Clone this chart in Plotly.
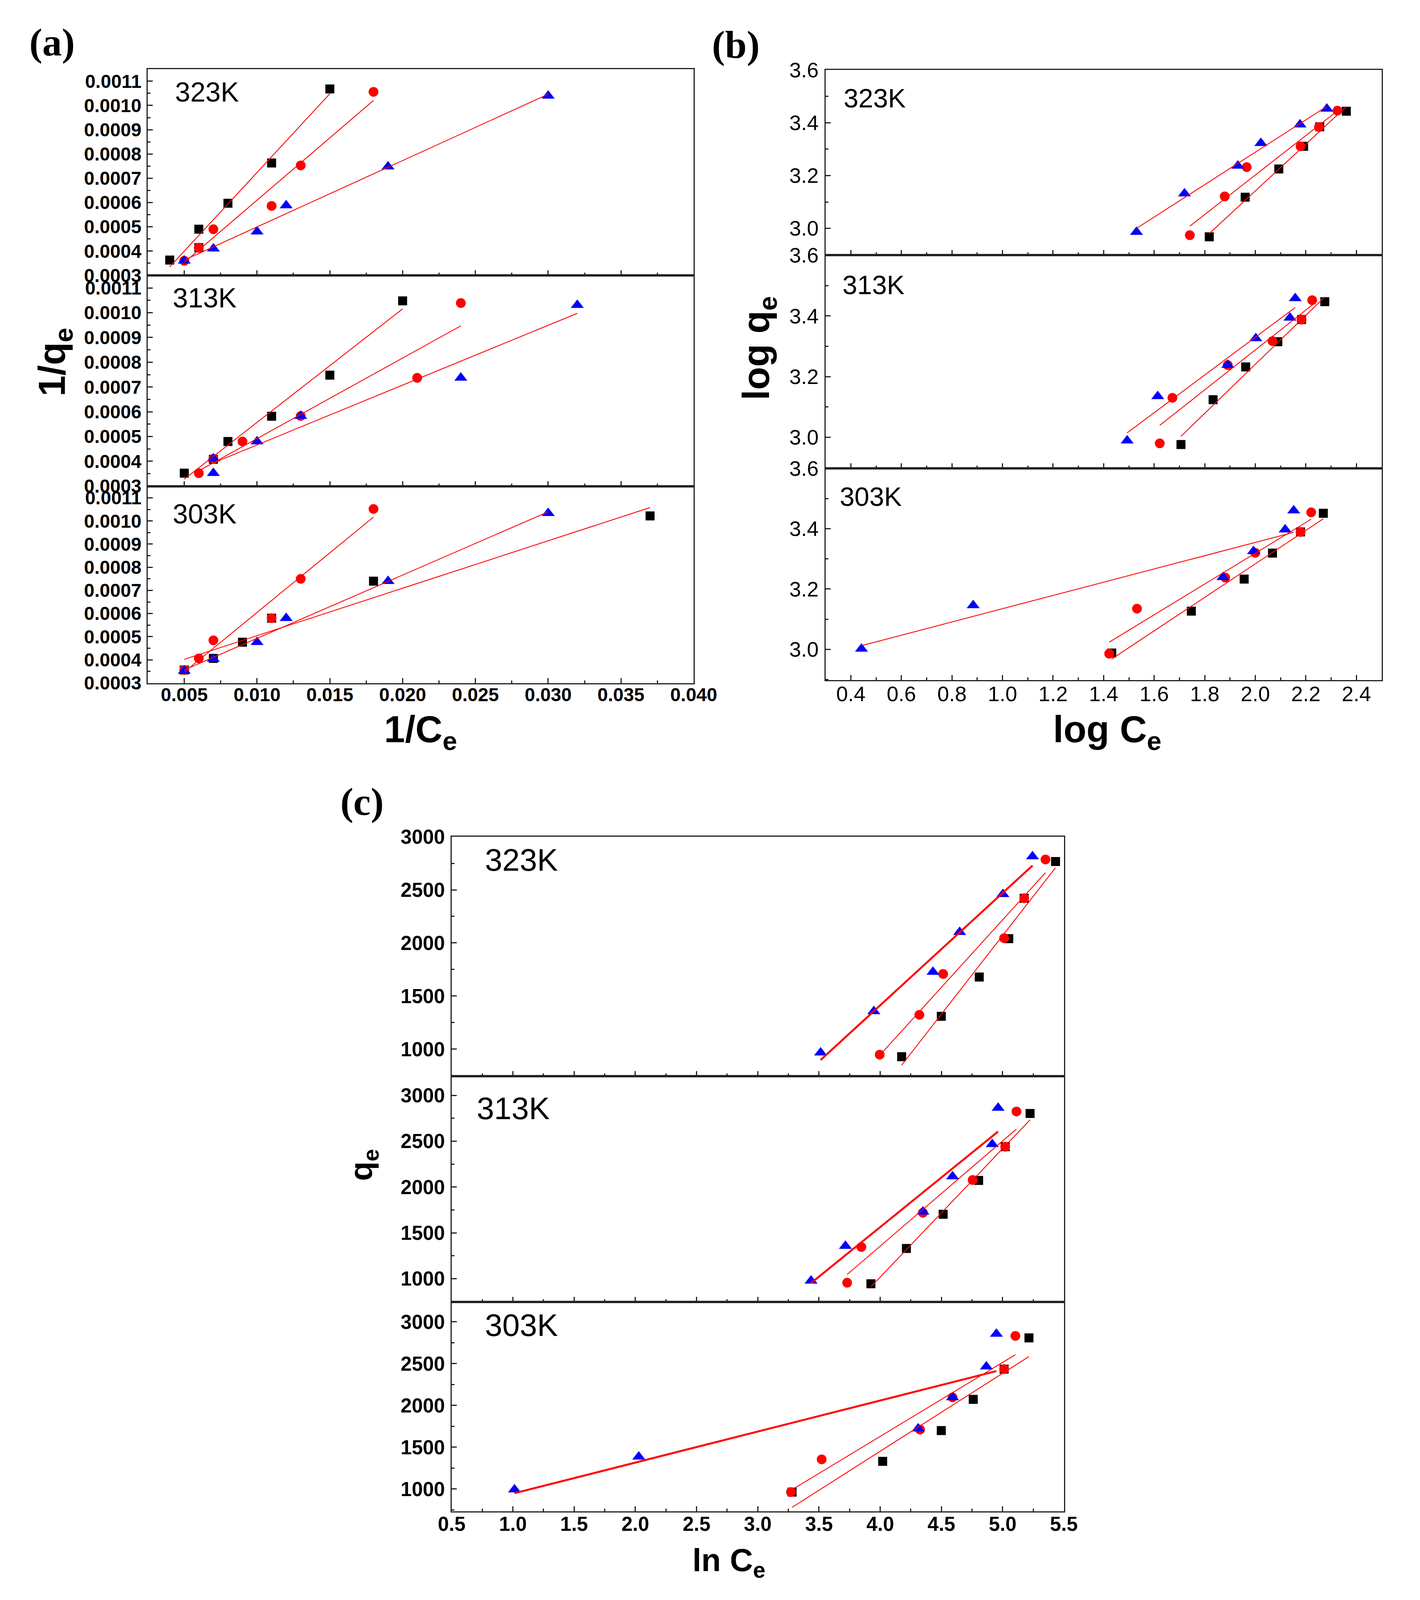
import numpy as np
import plotly.graph_objects as go

# ---------------- (a) 1/qe vs 1/Ce ----------------
a323_sq_x = [0.004, 0.006, 0.006, 0.008, 0.011, 0.015]
a323_sq_y = [0.000363, 0.00049, 0.000414, 0.000597, 0.000763, 0.001068]
a323_ci_x = [0.005, 0.006, 0.007, 0.011, 0.013, 0.018]
a323_ci_y = [0.00036, 0.000414, 0.00049, 0.000586, 0.000753, 0.001056]
a323_tr_x = [0.005, 0.007, 0.010, 0.012, 0.019, 0.030]
a323_tr_y = [0.00036, 0.00041, 0.00048, 0.000588, 0.000748, 0.00104]

a313_sq_x = [0.005, 0.007, 0.008, 0.011, 0.015, 0.020]
a313_sq_y = [0.000352, 0.000408, 0.00048, 0.000582, 0.000748, 0.001048]
a313_ci_x = [0.006, 0.007, 0.009, 0.013, 0.021, 0.024]
a313_ci_y = [0.000352, 0.00041, 0.00048, 0.000583, 0.000737, 0.001039]
a313_tr_x = [0.007, 0.007, 0.010, 0.013, 0.024, 0.032]
a313_tr_y = [0.000352, 0.000411, 0.00048, 0.000583, 0.000737, 0.001031]

a303_sq_x = [0.005, 0.007, 0.009, 0.011, 0.018, 0.037]
a303_sq_y = [0.000356, 0.000406, 0.000476, 0.00058, 0.00074, 0.001022]
a303_ci_x = [0.005, 0.006, 0.007, 0.011, 0.013, 0.018]
a303_ci_y = [0.000356, 0.000406, 0.000484, 0.00058, 0.00075, 0.001052]
a303_tr_x = [0.005, 0.007, 0.010, 0.012, 0.019, 0.030]
a303_tr_y = [0.000352, 0.000404, 0.000476, 0.00058, 0.00074, 0.001034]

# ---------------- (b) log qe vs log Ce ----------------
b323_sq_x = [1.818, 1.960, 2.093, 2.191, 2.255, 2.360]
b323_sq_y = [2.968, 3.118, 3.225, 3.311, 3.385, 3.444]
b323_ci_x = [1.741, 1.879, 1.966, 2.179, 2.252, 2.325]
b323_ci_y = [2.974, 3.121, 3.232, 3.311, 3.384, 3.446]
b323_tr_x = [1.530, 1.720, 1.931, 2.022, 2.177, 2.283]
b323_tr_y = [2.986, 3.132, 3.237, 3.323, 3.393, 3.453]

b313_sq_x = [1.706, 1.833, 1.962, 2.089, 2.183, 2.275]
b313_sq_y = [2.976, 3.124, 3.232, 3.315, 3.388, 3.447]
b313_ci_x = [1.622, 1.672, 1.891, 2.068, 2.183, 2.225]
b313_ci_y = [2.980, 3.130, 3.238, 3.317, 3.388, 3.452]
b313_tr_x = [1.493, 1.614, 1.891, 2.002, 2.137, 2.158]
b313_tr_y = [2.989, 3.135, 3.238, 3.326, 3.394, 3.458]

b303_sq_x = [1.432, 1.747, 1.956, 2.068, 2.179, 2.269]
b303_sq_y = [2.988, 3.127, 3.233, 3.319, 3.389, 3.451]
b303_ci_x = [1.422, 1.532, 1.881, 2.000, 2.179, 2.221]
b303_ci_y = [2.986, 3.135, 3.238, 3.320, 3.389, 3.454]
b303_tr_x = [0.442, 0.884, 1.872, 1.993, 2.118, 2.152]
b303_tr_y = [3.002, 3.146, 3.239, 3.325, 3.397, 3.460]

# ---------------- (c) qe vs ln Ce ----------------
c323_sq_x = [4.175, 4.499, 4.809, 5.050, 5.176, 5.432]
c323_sq_y = [929, 1309, 1679, 2040, 2421, 2767]
c323_ci_x = [3.996, 4.320, 4.514, 5.012, 5.176, 5.350]
c323_ci_y = [948, 1323, 1708, 2045, 2421, 2786]
c323_tr_x = [3.513, 3.948, 4.431, 4.649, 5.002, 5.244]
c323_tr_y = [967, 1356, 1727, 2102, 2459, 2815]

c313_sq_x = [3.924, 4.214, 4.514, 4.804, 5.021, 5.224]
c313_sq_y = [945, 1330, 1703, 2072, 2440, 2802]
c313_ci_x = [3.730, 3.846, 4.349, 4.755, 5.021, 5.113]
c313_ci_y = [956, 1346, 1720, 2077, 2440, 2824]
c313_tr_x = [3.435, 3.716, 4.349, 4.591, 4.915, 4.963]
c313_tr_y = [978, 1357, 1731, 2115, 2467, 2863]

c303_sq_x = [3.280, 4.020, 4.499, 4.760, 5.012, 5.215]
c303_sq_y = [964, 1331, 1699, 2072, 2434, 2807]
c303_ci_x = [3.271, 3.522, 4.325, 4.591, 5.012, 5.104]
c303_ci_y = [964, 1355, 1711, 2096, 2434, 2831]
c303_tr_x = [1.013, 2.028, 4.310, 4.591, 4.867, 4.949]
c303_tr_y = [994, 1386, 1723, 2096, 2464, 2855]

temps = ["323K", "313K", "303K"]

# reference picture size (positions below are read in its pixels)
REF_W, REF_H = 3634, 4871
# the browser page only shows 4096 px in height, so the figure is fitted to that
FIG_W, FIG_H = 3618, 4080
FONT = "Liberation Sans"
AXIS_COLOR = "#222222"

# marker style per series: black squares, red circles, blue triangles
STYLES = [
    dict(color="#000000", symbol="square", size=23),
    dict(color="#FF0000", symbol="circle", size=25),
    dict(color="#0000FF", symbol="triangle-up", size=29),
]


def px_x(p):
    return p / REF_W


def px_y(p):
    return 1 - p / REF_H


# Panel geometry (pixels of the original picture)
panels = [
    dict(
        key="a", xpx=(346, 1787), ypx=[(168, 808), (808, 1461), (1461, 2071)],
        xrange=[0.0025, 0.040], xdtick=0.005, xminor=0.0025, xfmt=".3f",
        yranges=[[0.000299, 0.00115]] * 3, ydtick=0.0001, ytick0=0.0003,
        yminor=0.00005, yfmt=".4f", bold=True, tick_size=48, thick_fit=False,
        data=[
            [(a323_sq_x, a323_sq_y), (a323_ci_x, a323_ci_y), (a323_tr_x, a323_tr_y)],
            [(a313_sq_x, a313_sq_y), (a313_ci_x, a313_ci_y), (a313_tr_x, a313_tr_y)],
            [(a303_sq_x, a303_sq_y), (a303_ci_x, a303_ci_y), (a303_tr_x, a303_tr_y)],
        ],
        label_px=[(416, 240), (409, 878), (409, 1547)], label_size=70,
    ),
    dict(
        key="b", xpx=(2135, 3603), ypx=[(171, 745), (745, 1405), (1405, 2062)],
        xrange=[0.3, 2.5], xdtick=0.2, xminor=0.1, xfmt=".1f",
        yranges=[[2.898, 3.6]] * 3, ydtick=0.2, ytick0=3.0,
        yminor=0.1, yfmt=".1f", bold=False, tick_size=54, thick_fit=False,
        data=[
            [(b323_sq_x, b323_sq_y), (b323_ci_x, b323_ci_y), (b323_tr_x, b323_tr_y)],
            [(b313_sq_x, b313_sq_y), (b313_ci_x, b313_ci_y), (b313_tr_x, b313_tr_y)],
            [(b303_sq_x, b303_sq_y), (b303_ci_x, b303_ci_y), (b303_tr_x, b303_tr_y)],
        ],
        label_px=[(2181, 258), (2177, 837), (2170, 1492)], label_size=68,
    ),
    dict(
        key="c", xpx=(1148, 2764), ypx=[(2547, 3289), (3289, 3989), (3989, 4637)],
        xrange=[0.5, 5.5], xdtick=0.5, xminor=0.25, xfmt=".1f",
        yranges=[[745, 3000], [745, 3209], [735, 3235]], ydtick=500, ytick0=1000,
        yminor=250, yfmt="d", bold=True, tick_size=51, thick_fit=True,
        data=[
            [(c323_sq_x, c323_sq_y), (c323_ci_x, c323_ci_y), (c323_tr_x, c323_tr_y)],
            [(c313_sq_x, c313_sq_y), (c313_ci_x, c313_ci_y), (c313_tr_x, c313_tr_y)],
            [(c303_sq_x, c303_sq_y), (c303_ci_x, c303_ci_y), (c303_tr_x, c303_tr_y)],
        ],
        label_px=[(1234, 2619), (1212, 3389), (1234, 4061)], label_size=80,
    ),
]


def build_figure():
    fig = go.Figure()
    layout = {}
    annotations = []
    n = 0
    for panel in panels:
        tick_font = dict(family=FONT, size=panel["tick_size"], color="black",
                         weight="bold" if panel["bold"] else "normal")
        for row in range(3):
            n += 1
            xa, ya = f"x{n}", f"y{n}"
            top, bottom = panel["ypx"][row]
            layout[f"xaxis{n}"] = dict(
                domain=[px_x(panel["xpx"][0]), px_x(panel["xpx"][1])],
                anchor=ya, range=panel["xrange"],
                tick0=panel["xrange"][0] if panel["key"] == "c" else panel["xdtick"],
                dtick=panel["xdtick"], tickformat=panel["xfmt"],
                showticklabels=(row == 2), tickfont=tick_font,
                ticks="inside", ticklen=13, tickwidth=3, tickcolor=AXIS_COLOR,
                minor=dict(ticks="inside", ticklen=7, tickwidth=3,
                           tickcolor=AXIS_COLOR, dtick=panel["xminor"]),
                ticklabelstandoff=-14,
                showline=True, linecolor=AXIS_COLOR, linewidth=3, mirror=True,
                showgrid=False, zeroline=False,
            )
            layout[f"yaxis{n}"] = dict(
                domain=[px_y(bottom), px_y(top)],
                anchor=xa, range=panel["yranges"][row],
                tick0=panel["ytick0"], dtick=panel["ydtick"],
                tickformat=panel["yfmt"], tickfont=tick_font,
                ticks="inside", ticklen=13, tickwidth=3, tickcolor=AXIS_COLOR,
                minor=dict(ticks="inside", ticklen=7, tickwidth=3,
                           tickcolor=AXIS_COLOR, dtick=panel["yminor"]),
                ticklabelstandoff=4,
                showline=True, linecolor=AXIS_COLOR, linewidth=3, mirror=True,
                showgrid=False, zeroline=False,
            )

            series = panel["data"][row]
            # markers first: black, red, blue
            for (xs, ys), style in zip(series, STYLES):
                fig.add_trace(go.Scatter(
                    x=xs, y=ys, mode="markers", xaxis=xa, yaxis=ya,
                    marker=dict(color=style["color"], symbol=style["symbol"],
                                size=style["size"], line=dict(width=0)),
                    showlegend=False,
                ))
            # linear fits drawn on top
            for i, (xs, ys) in enumerate(series):
                slope, icpt = np.polyfit(xs, ys, 1)
                fx = np.array([min(xs), max(xs)])
                width = 5 if (panel["thick_fit"] and i == 2) else 2.2
                fig.add_trace(go.Scatter(
                    x=fx, y=slope * fx + icpt, mode="lines", xaxis=xa, yaxis=ya,
                    line=dict(color="#FF0000", width=width),
                    showlegend=False,
                ))

            lx, ly = panel["label_px"][row]
            annotations.append(dict(
                text=temps[row], x=px_x(lx), y=px_y(ly), xref="paper", yref="paper",
                xanchor="left", yanchor="middle", showarrow=False,
                font=dict(family=FONT, size=panel["label_size"], color="black"),
            ))

    # axis titles
    titles = [
        ("1/C<sub>e</sub>", 1066, 2222, 0, 96),
        ("1/q<sub>e</sub>", 100, 1076, -90, 96),
        ("log C<sub>e</sub>", 2878, 2222, 0, 96),
        ("log q<sub>e</sub>", 1958, 1033, -90, 96),
        ("ln C<sub>e</sub>", 1880, 4795, 0, 82),
        ("q<sub>e</sub>", 914, 3564, -90, 82),
    ]
    for text, x, y, angle, size in titles:
        annotations.append(dict(
            text=f"<b>{text}</b>", x=px_x(x), y=px_y(y), xref="paper", yref="paper",
            xanchor="center", yanchor="middle", textangle=angle, showarrow=False,
            font=dict(family=FONT, size=size, color="black"),
        ))

    # panel letters
    for text, x, y in [("(a)", 93, 85), ("(b)", 1898, 93), ("(c)", 911, 2438)]:
        annotations.append(dict(
            text=f"<b>{text}</b>", x=px_x(x), y=px_y(y), xref="paper", yref="paper",
            xanchor="center", yanchor="middle", showarrow=False,
            font=dict(family="Liberation Serif", size=100, color="black"),
        ))

    fig.update_layout(
        width=FIG_W, height=FIG_H,
        margin=dict(l=0, r=0, t=0, b=0),
        paper_bgcolor="white", plot_bgcolor="white",
        annotations=annotations,
        **layout,
    )
    return fig


if __name__ == "__main__":
    fig = build_figure()
    fig.write_html("out.html")
